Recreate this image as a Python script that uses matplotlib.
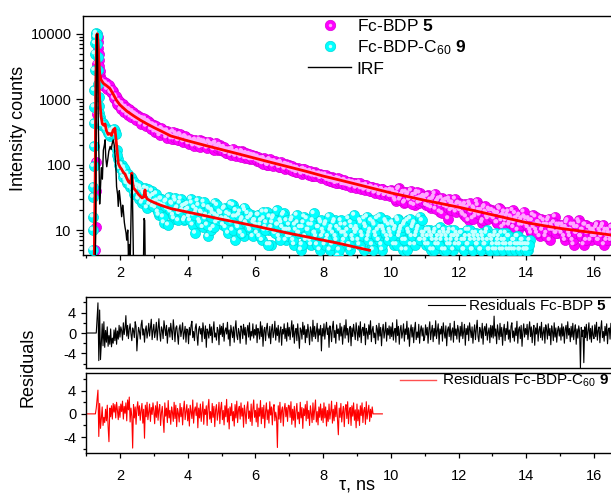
import numpy as np
import matplotlib
matplotlib.use("Agg")
import matplotlib.pyplot as plt
from matplotlib.lines import Line2D
from matplotlib.legend_handler import HandlerTuple
from matplotlib.transforms import ScaledTranslation
from matplotlib.ticker import FixedLocator, NullFormatter, LogLocator, MultipleLocator

plt.rcParams['font.family'] = ['Liberation Sans', 'DejaVu Sans']
plt.rcParams['mathtext.fontset'] = 'custom'
plt.rcParams['mathtext.rm'] = 'Liberation Sans'
plt.rcParams['mathtext.it'] = 'Liberation Sans:italic'
plt.rcParams['mathtext.bf'] = 'Liberation Sans:bold'

# ---------------- data ----------------
DT = 0.05  # channel spacing (ns) of each decay list

# Fc-BDP 5 : rising edge / peak (explicit channels)
t5_early = [1.27, 1.28, 1.29, 1.30, 1.31, 1.32, 1.325, 1.33, 1.34, 1.35, 1.36, 1.37, 1.38,
            1.39, 1.40, 1.41, 1.42, 1.43, 1.44, 1.45, 1.46, 1.47, 1.48]
y5_early = [5, 11, 40, 110, 600, 3500, 8000, 10000, 9000, 7500, 6000, 5000, 4000,
            3200, 2700, 2300, 2100, 2000, 1950, 1900, 1850, 1820, 1800]
T5_START = 1.50      # channels 1.50, 1.55, ...
y5 = [1900, 1620, 1750, 1480, 1560, 1250, 1320, 1010, 1060, 830,
      900, 740, 790, 640, 720, 610, 680, 560, 510, 600, 570, 470, 530, 450, 480, 500, 400, 455, 420, 350,
      400, 330, 360, 340, 300, 350, 310, 290, 330, 280, 305, 270, 250, 300, 265, 240, 280, 255, 230, 265,
      250, 215, 240, 205, 230, 220, 195, 240, 210, 190, 225, 200, 185, 215, 205, 175, 210, 190, 170, 200,
      185, 160, 175, 150, 165, 170, 145, 160, 140, 155, 150, 135, 160, 140, 125, 145, 135, 120, 140, 130,
      135, 115, 125, 120, 105, 125, 112, 100, 118, 108, 112, 98, 108, 103, 92, 110, 97, 90, 102, 93,
      98, 84, 90, 86, 78, 88, 80, 75, 85, 77, 82, 72, 78, 74, 68, 76, 70, 66, 73, 67,
      70, 62, 66, 60, 57, 64, 55, 60, 58, 53, 60, 55, 50, 57, 52, 48, 55, 50, 53, 47,
      52, 46, 49, 44, 48, 42, 46, 44, 40, 45, 42, 38, 43, 40, 37, 42, 39, 35, 40, 36,
      41, 33, 37, 28, 36, 44, 31, 35, 26, 38, 33, 29, 40, 31, 24, 35, 30, 37, 27, 32,
      31, 24, 34, 27, 22, 30, 36, 25, 28, 19, 31, 26, 23, 29, 15, 27, 24, 21, 30, 22,
      26, 20, 23, 17, 25, 21, 14, 24, 19, 22, 16, 27, 20, 18, 13, 22, 19, 16, 21, 17,
      20, 15, 18, 13, 22, 16, 11, 19, 14, 17, 12, 16, 20, 13, 15, 10, 17, 14, 12, 16,
      15, 11, 14, 9, 17, 12, 10, 13, 8, 15, 11, 12, 9, 14, 7, 12, 10, 16, 9, 11,
      12, 9, 11, 7, 13, 10, 8, 12, 6, 11, 9, 14, 8, 10, 6, 12, 9, 11, 7, 10,
      10, 8, 12, 7, 9, 11, 6, 10, 8, 9, 7, 11, 8, 10, 9]
T5B_START = 1.525    # interleaved channels 1.525, 1.575, ...
y5b = [1580, 1800, 1430, 1650, 1290, 1400, 1050, 1130, 860, 940,
       700, 860, 650, 760, 580, 700, 540, 650, 600, 480, 560, 530, 420, 510, 470, 390, 460, 440, 350, 410,
       320, 390, 310, 280, 360, 300, 330, 260, 310, 290, 250, 320, 260, 280, 235, 290, 250, 225, 270, 240,
       210, 250, 225, 195, 240, 205, 220, 185, 230, 200, 210, 180, 225, 190, 200, 170, 215, 180, 195, 165,
       165, 185, 150, 170, 160, 140, 175, 150, 135, 160, 145, 130, 155, 140, 150, 125, 145, 130, 120, 138,
       120, 132, 110, 124, 104, 118, 114, 98, 120, 104, 96, 112, 100, 106, 92, 104, 96, 86, 100, 90,
       86, 95, 80, 90, 76, 84, 82, 72, 86, 74, 78, 70, 80, 68, 75, 66, 72, 69, 62, 70,
       64, 70, 58, 65, 56, 62, 58, 52, 62, 54, 57, 50, 58, 49, 54, 51, 46, 53, 48, 44,
       48, 53, 43, 47, 41, 49, 44, 39, 46, 41, 37, 44, 40, 35, 42, 38, 34, 40, 36, 33,
       34, 40, 30, 36, 42, 29, 34, 38, 27, 33, 36, 30, 25, 34, 29, 38, 26, 31, 28, 33,
       28, 33, 23, 29, 26, 32, 21, 27, 30, 24, 18, 28, 25, 22, 30, 20, 26, 23, 19, 25,
       21, 25, 18, 23, 16, 22, 26, 19, 15, 21, 18, 24, 17, 20, 14, 23, 18, 15, 20, 16,
       16, 19, 13, 18, 21, 14, 17, 12, 16, 19, 13, 15, 11, 18, 14, 16, 12, 15, 19, 13,
       12, 15, 10, 14, 11, 16, 9, 13, 12, 10, 14, 8, 12, 15, 10, 11, 13, 9, 12, 10,
       10, 12, 8, 11, 14, 9, 10, 7, 12, 9, 11, 13, 8, 10, 12, 7, 9, 11, 10, 8,
       9, 11, 7, 10, 8, 12, 9, 7, 10, 8, 11, 9, 7, 10]

# Fc-BDP-C60 9 : rising edge / peak
t9_early = [1.19, 1.20, 1.205, 1.21, 1.215, 1.22, 1.225, 1.23, 1.235, 1.24, 1.25, 1.26, 1.27,
            1.28, 1.29, 1.30, 1.31, 1.32, 1.33, 1.34, 1.35, 1.36, 1.37, 1.38, 1.39, 1.40,
            1.41, 1.42, 1.43, 1.44, 1.45, 1.46, 1.47, 1.48]
y9_early = [5, 10, 16, 32, 46, 95, 190, 430, 770, 1380, 2800, 5000, 7200,
            9000, 10000, 10300, 10000, 9200, 7000, 4500, 2800, 1700, 1100, 800, 620, 540,
            480, 450, 430, 410, 420, 400, 430, 410]
T9_START = 1.50
y9 = [430, 380, 360, 310, 270, 330, 310, 330, 170, 120,
      88, 100, 64, 82, 52, 66, 45, 60, 36, 50, 42, 30, 46, 26, 38, 44, 22, 34, 28, 40,
      34, 22, 28, 17, 30, 24, 13, 27, 21, 32, 19, 25, 15, 28, 22, 18, 30, 20, 14, 24,
      25, 16, 30, 12, 22, 18, 28, 14, 19, 11, 23, 17, 8, 21, 10, 18, 26, 13, 16, 19,
      18, 12, 22, 15, 9, 17, 13, 24, 7, 16, 11, 19, 14, 8, 20, 12, 15, 10, 17, 13,
      14, 9, 17, 12, 7, 15, 11, 19, 10, 6, 13, 16, 9, 12, 8, 14, 11, 18, 7, 10,
      12, 8, 15, 6, 10, 13, 9, 5, 11, 16, 7, 10, 12, 6, 14, 9, 8, 11, 5, 13,
      10, 6, 13, 8, 5, 11, 9, 14, 7, 4, 10, 12, 6, 9, 8, 15, 5, 11, 7, 10,
      11, 7, 14, 9, 5, 12, 16, 8, 10, 6, 13, 9, 15, 7, 11, 5, 10, 14, 8, 12,
      9, 13, 6, 11, 15, 8, 10, 5, 12, 7, 14, 9, 6, 11, 13, 8, 10, 16, 7, 9,
      9, 6, 8, 10, 5, 7, 9, 6, 8, 11, 7, 5, 9, 8, 6, 10, 7, 5, 8, 9,
      8, 6, 9, 5, 7, 10, 6, 8, 5, 9, 7, 6, 8, 5, 9, 7, 6, 10, 5, 8,
      7, 5, 9, 6, 8, 5, 7, 6, 9, 5, 8, 6, 5, 7, 6, 8, 5, 6, 7, 5,
      6, 5, 7]
T9B_START = 1.525
y9b = [410, 350, 340, 290, 300, 300, 350, 290, 140, 100,
       92, 75, 90, 58, 72, 50, 64, 42, 54, 38, 48, 33, 42, 28, 36, 30, 42, 25, 32, 23,
       27, 36, 19, 25, 30, 16, 23, 28, 12, 20, 26, 17, 31, 21, 14, 26, 19, 23, 15, 20,
       21, 14, 26, 17, 9, 20, 24, 13, 18, 27, 15, 12, 22, 16, 20, 11, 17, 24, 14, 18,
       15, 21, 11, 18, 14, 25, 10, 16, 20, 12, 17, 9, 15, 22, 13, 18, 11, 16, 8, 14,
       12, 17, 8, 14, 19, 10, 13, 6, 16, 11, 15, 9, 20, 12, 7, 13, 17, 10, 14, 8,
       10, 14, 7, 12, 17, 9, 11, 6, 13, 8, 15, 10, 7, 12, 18, 9, 6, 11, 14, 8,
       9, 12, 7, 16, 10, 6, 13, 8, 11, 5, 14, 9, 7, 12, 10, 6, 13, 8, 17, 9,
       10, 6, 13, 8, 15, 11, 7, 9, 14, 5, 12, 8, 10, 16, 6, 11, 9, 13, 7, 10,
       8, 12, 10, 6, 14, 9, 11, 7, 13, 5, 10, 15, 8, 12, 6, 9, 11, 7, 14, 8,
       7, 10, 6, 9, 8, 5, 10, 7, 6, 9, 8, 10, 5, 7, 9, 6, 8, 10, 6, 7,
       6, 9, 7, 5, 8, 6, 10, 7, 5, 8, 9, 6, 7, 5, 8, 6, 9, 7, 5, 8,
       6, 8, 5, 7, 6, 9, 5, 7, 6, 8, 5, 6, 7, 5, 8, 6, 5, 7, 6, 5,
       5, 6]

# IRF
t_irf = [1.22, 1.26, 1.28, 1.29, 1.30, 1.31, 1.32, 1.33, 1.34, 1.35, 1.36, 1.38, 1.40, 1.42,
         1.45, 1.48, 1.51, 1.54, 1.56, 1.58, 1.61, 1.64, 1.67, 1.71, 1.74, 1.77, 1.80, 1.83,
         1.85, 1.88, 1.90, 1.93, 1.95, 1.98, 2.00, 2.03, 2.05, 2.08, 2.10, 2.13, 2.15, 2.18,
         2.20, 2.23, 2.25, 2.28, 2.30, 2.33, 2.35, 2.37, 2.40, 2.45, 2.50, 2.55, 2.60, 2.65,
         2.69, 2.71, 2.73, 2.75, 2.80]
y_irf = [1, 2, 8, 100, 2000, 8000, 10000, 9000, 4000, 1200, 450, 120, 25, 40,
         90, 60, 167, 200, 240, 130, 93, 120, 160, 190, 170, 210, 240, 200,
         150, 90, 46, 35, 23, 40, 32, 22, 16, 24, 20, 13, 11, 9,
         7, 10, 4, 6, 3, 20, 70, 30, 3, 1, 2, 1, 3, 1,
         2, 15, 14, 2, 1]

# fits
t_fit5 = [1.24, 1.27, 1.29, 1.31, 1.33, 1.35, 1.37, 1.40, 1.44, 1.48, 1.51, 1.6, 1.7, 1.8, 1.9,
          2.0, 2.2, 2.4, 2.6, 2.8, 3.0, 3.25, 3.5, 4.0, 4.5, 5.0, 5.5, 6.0, 6.5, 7.0, 7.5,
          8.0, 8.5, 9.0, 9.5, 10.0, 10.5, 11.0, 11.5, 12.0, 12.5, 13.0, 13.5, 14.0, 14.5,
          15.0, 15.5, 16.0, 16.5, 16.7]
y_fit5 = [2, 30, 800, 9000, 10000, 8000, 4500, 2500, 2000, 1850, 1750, 1620, 1470, 1200, 960,
          820, 660, 560, 480, 420, 370, 320, 275, 232, 198, 170, 146, 125, 107, 92, 79,
          67, 58, 50, 43, 37, 32.5, 28.5, 25.3, 22.4, 19.6, 17.1, 14.9, 13.0, 11.7,
          10.6, 9.8, 9.1, 8.4, 8.1]
t_fit9 = [1.20, 1.23, 1.26, 1.29, 1.31, 1.33, 1.35, 1.37, 1.40, 1.44, 1.48, 1.52, 1.56, 1.60,
          1.65, 1.70, 1.75, 1.80, 1.85, 1.90, 1.95, 2.00, 2.05, 2.10, 2.15, 2.20, 2.25, 2.30,
          2.33, 2.35, 2.37, 2.40, 2.45, 2.50, 2.55, 2.60, 2.65, 2.70, 2.72, 2.74, 2.76, 2.80,
          2.90, 3.0, 3.2, 3.5, 4.0, 4.5, 5.0, 5.5, 6.0, 6.5, 7.0, 7.5, 8.0, 8.5, 9.0, 9.37]
y_fit9 = [1, 1.5, 20, 2000, 9500, 10000, 6000, 2500, 1000, 550, 420, 400, 420, 330,
          290, 300, 280, 340, 360, 200, 105, 92, 85, 76, 72, 62, 55, 52,
          60, 74, 55, 44, 41, 38, 35, 33, 31, 32, 36, 41, 33, 30,
          28, 26.5, 24, 21.3, 18.8, 16.6, 14.6, 13.0, 11.5, 10.1, 8.9, 7.9, 7.0, 6.2, 5.4, 4.9]

# weighted residuals, in tenths, on a 0.025 ns grid starting at 1.000 ns
DTR = 0.025
TR_START = 1.000
res5_tenths = [0, 0, 0, 0, 0, 0, 0, 0, 0, 0, 0, 0, 0,
    30, 59, -54, 45, -52, -20, 18, -25, 22, -28, 5, -18, 12, -26, -5, -22, 8, -27, -10, -20, 6, -15, 10, -22, 4, -12, 15,
    -8, 12, 5, -14, 20, -3, 9, 34, -6, 15, -11, 7, 18, -2, -15, 10, 4, -9, 22, 13, -35, -7, 11, 3, -12, 16, 25, -4, 8, -18, 6, 14, -10, 2, 19, -6, 11, 27, -13, 5,
    17, -9, 3, 21, -14, 8, 28, 0, -16, 12, 6, -11, 24, 9, -5, 15, -20, 4, 11, -8, 19, 2, -13, 26, 7, -17, 10, 14, -3, -22, 9, 16, -7, 5, 20, -12, 1, 13, -18, 8,
    6, -21, 11, -4, 15, 23, -9, 3, -15, 10, 18, -6, -24, 7, 13, -2, 9, -17, 20, 4, -11, 14, -28, 8, 2, -10, 17, -5, 12, -19, 6, 22, -8, 0, -14, 11, 5, -23, 16, -3,
    13, -7, 19, -16, 4, 10, -2, 21, -12, 6, -25, 15, 3, -9, 12, -18, 8, 24, -5, -13, 9, 1, -20, 14, 7, -11, 17, -4, 11, -22, 5, 15, -8, 20, -14, 3, -6, 18, -10, 7,
    -4, 16, -19, 9, 2, -12, 22, -7, 14, -26, 5, 11, -15, 8, 19, -3, -10, 13, -21, 6, 17, -9, 1, 23, -14, 10, -5, 15, -18, 4, 12, -24, 7, -2, 18, -11, 9, -16, 20, -6,
    11, -13, 5, 24, -8, 16, -20, 3, 9, -15, 18, -5, -30, 10, 6, -12, 21, -3, 14, -19, 7, -9, 17, 1, -23, 12, 4, -16, 25, -7, 13, -11, 2, 19, -17, 8, -4, 15, -35, 9,
    -6, 18, -12, 7, 21, -3, 10, -28, 14, 4, -17, 11, 23, -9, 5, -20, 16, -1, 8, -14, 19, -6, 12, -22, 3, 15, -10, 26, -4, 9, -18, 6, 13, -25, 10, -7, 17, 1, -13, 20,
    4, -15, 14, -8, 22, -19, 7, 11, -5, 18, -23, 9, 2, -12, 16, -3, 24, -17, 6, 13, -9, 0, -21, 15, 8, -14, 19, -6, 11, -25, 5, 17, -10, 3, 21, -16, 9, -4, 14, -11,
    12, -7, 20, -14, 3, 9, -18, 26, -5, 13, -22, 6, 15, -10, 1, 18, -16, 8, -3, 23, -12, 10, -26, 4, 16, -8, 11, -19, 7, 21, -13, 2, -9, 17, -20, 5, 14, -6, 10, -15,
    -9, 16, -4, 11, -20, 7, 22, -13, 3, 15, -17, 9, -6, 24, -11, 5, 18, -22, 8, -2, 13, -16, 20, 1, -10, 14, -25, 6, 12, -7, 19, -14, 4, 10, -18, 23, -5, 8, -12, 15,
    5, -18, 13, -6, 21, -11, 2, 17, -24, 9, -3, 14, -15, 20, 6, -9, 12, -20, 3, 16, -13, 8, 25, -7, -17, 11, 4, -10, 19, -22, 7, 13, -5, 18, -14, 1, 10, -19, 15, -8,
    14, -10, 33, -6, 8, -21, 16, 2, -13, 19, -7, 11, -24, 5, 17, -15, 9, -3, 22, -12, 6, -18, 13, 20, -9, 4, -16, 10, -5, 23, -20, 7, 12, -11, 15, -26, 3, 18, -8, 9,
    -3, 17, -13, 8, 22, -7, 12, -19, 4, 15, -24, 10, -2, 19, -16, 6, 13, -9, 21, -14, 1, 11, -20, 16, 7, -12, 18, -5, 9, -23, 14, 3, -15, 20, -8, 10, -18, 5, 13, -6,
    10, -14, 18, -6, 12, -20, 7, 15, -11, 22, -4, 9, -17, 13, -8, 19, -13, 5, 16, -22, 8, -10, 14, 3, -69, 11, -7, 6, -58, 12, -9, 17, -15, 4, 20, -12, 9, -18, 14, -5,
    -11, 16, -7, 21, -14, 5, 12, -19, 8, 24, -9, 3, -16, 13, -5, 18, -21, 7, 10, -12, 19, -4, 11, -17, 6, 15, -10, 2, 14]
res9_tenths = [0, 0, 0, 0, 0, 0, 0, 0, 0, 0, 0, 0,
    10, 25, 41, -39, 18, -25, -8, 12, -20, -6, -15, 8, -12, 15, -22, -48, 10, -5, 14, -9, 18, 3, 16, -7, 20, 6, -10, 13,
    -6, 17, 4, 22, -9, 13, 1, 19, -12, 24, 7, 29, -14, 10, -4, -59, 16, -7, 12, -18, 9, 21, -3, 14, -11, 6, 18, -16, 8, -42, 15, -5, 20, -10, 3, 17, -13, 11, -1, 19,
    5, -17, 14, -6, 21, -11, 8, 16, -20, 2, 13, -9, -32, 19, -4, 10, -15, 23, -7, 6, -18, 12, 3, -13, 20, -8, 15, -22, 9, 1, -14, 18, -5, 11, -19, 7, 22, -10, 4, 16,
    -12, 9, -21, 15, 3, -8, 24, -16, 6, 12, -3, 19, -24, 10, -7, 17, -13, 5, 21, -18, 8, -1, 14, -20, 11, 25, -9, 4, -15, 18, -6, 13, -22, 7, 16, -11, 2, 20, -17, 9,
    20, -10, 6, -19, 14, -5, 25, -14, 9, -26, 12, -3, 18, -12, 4, -21, 16, -7, 22, -15, 7, 13, -9, 19, -4, 10, -23, 15, 2, -17, 11, 21, -8, 5, -13, 17, -20, 8, 24, -6,
    6, -14, 17, -22, 10, -4, 23, -17, 11, -8, 15, -24, 4, 19, -10, 7, -16, 21, -2, 12, -19, 9, 16, -12, 3, -7, -58, 14, -9, 20, -15, 6, 12, -21, 8, 18, -5, 11, -13, 15,
    14, -6, 21, -18, 8, -11, 13, -23, 5, 18, -9, 3, -17, 20, -7, 11, -25, 9, -3, 16, -12, 22, -8, 6, -20, 14, 1, -15, 19, -10, 7, 24, -14, 4, -19, 12, -6, 17, -11, 9,
    -15, 19, -7, 12, -21, 6, -13, 17, -9, 4, 22, -16, 8, -12, 15, -5, 20, -10, -36, 10, -6, 18, -14, 3, 13, -22, 9, 16, -8, 21, -17, 5, 11, -20, 14, -4, 19, -11, 7, -24,
    17, -12, 7, -20, 14, -3, 19, -15, 6, 11, -18, 21, -9, 4, 15, -13, 8, -6, 12,
    0, 0, 0, 0, 0, 0, 0, 0, 0, 0, 0, 0]

xticks = [2, 4, 6, 8, 10, 12, 14, 16]
yticks_top = [10, 100, 1000, 10000]
yticks_res = [-4, 0, 4]

# ---------------- figure ----------------
MAG = '#FF00FF'
CYN = '#00FFFF'
W, H = 611, 495
fig = plt.figure(figsize=(W / 100, H / 100), dpi=100)

def frac(l, t, r, b):
    return [l / W, 1 - b / H, (r - l) / W, (b - t) / H]

ax = fig.add_axes(frac(83.3, 16, 617, 255))
ar1 = fig.add_axes(frac(86.1, 296.7, 617, 368.3))
ar2 = fig.add_axes(frac(86.1, 373.3, 617, 453.3))

t5 = np.concatenate([t5_early, T5_START + DT * np.arange(len(y5)),
                     T5B_START + DT * np.arange(len(y5b))])
v5 = np.concatenate([y5_early, y5, y5b])
t9 = np.concatenate([t9_early, T9_START + DT * np.arange(len(y9)),
                     T9B_START + DT * np.arange(len(y9b))])
v9 = np.concatenate([y9_early, y9, y9b])

hl_off = ScaledTranslation(-1.3 / 100, 1.3 / 100, fig.dpi_scale_trans)
S = 52
ax.scatter(t5, v5, s=S, c=MAG, edgecolors='#D800D8', linewidths=0.5, zorder=2)
ax.scatter(t5, v5, s=9, c='#FFA8FF', edgecolors='none', zorder=2.1,
           transform=ax.transData + hl_off)
ax.scatter(t9, v9, s=S, c=CYN, edgecolors='#00D8D8', linewidths=0.5, zorder=3)
ax.scatter(t9, v9, s=9, c='#C8FFFF', edgecolors='none', zorder=3.1,
           transform=ax.transData + hl_off)
ax.plot(t_fit5, y_fit5, color='#FF0000', lw=2.0, zorder=5)
ax.plot(t_fit9, y_fit9, color='#FF0000', lw=2.0, zorder=5)
ax.plot(t_irf, y_irf, color='black', lw=1.0, zorder=6)

ax.set_yscale('log')
ax.set_xlim(0.917, 16.68)
ax.set_ylim(4.15, 18800)
ax.yaxis.set_major_locator(FixedLocator(yticks_top))
ax.set_yticklabels([str(v) for v in yticks_top])
ax.yaxis.set_minor_locator(LogLocator(base=10, subs=np.arange(2, 10)))
ax.yaxis.set_minor_formatter(NullFormatter())
ax.set_xticks(xticks)
ax.xaxis.set_minor_locator(MultipleLocator(1))
ax.tick_params(axis='both', which='both', direction='out', top=False, right=False,
               labelsize=10.5, width=0.9)
ax.tick_params(axis='y', which='major', length=4.8, pad=3.6)
ax.tick_params(axis='y', which='minor', length=2.9)
ax.tick_params(axis='x', which='major', length=3.6, pad=4.5)
ax.tick_params(axis='x', which='minor', length=2.5)

h5 = (Line2D([], [], ls='none', marker='o', ms=7.5, mfc=MAG, mec='#D800D8', mew=0.5),
      Line2D([], [], ls='none', marker='o', ms=2.5, mfc='#FFA8FF', mec='none'))
h9 = (Line2D([], [], ls='none', marker='o', ms=7.5, mfc=CYN, mec='#00D8D8', mew=0.5),
      Line2D([], [], ls='none', marker='o', ms=2.5, mfc='#C8FFFF', mec='none'))
hi = Line2D([], [], color='black', lw=1.0)
ax.legend([h5, h9, hi],
          [r'Fc-BDP $\mathbf{5}$', r'Fc-BDP-C$_{60}$ $\mathbf{9}$', 'IRF'],
          handler_map={tuple: HandlerTuple(ndivide=1, pad=0)},
          loc='upper left', bbox_to_anchor=(308 / W, 1 - 18 / H),
          bbox_transform=fig.transFigure, frameon=False, fontsize=12.5,
          borderpad=0, borderaxespad=0, handlelength=2.5, handletextpad=0.3,
          labelspacing=0.25)

# residual panels
tr5 = TR_START + DTR * np.arange(len(res5_tenths))
tr9 = TR_START + DTR * np.arange(len(res9_tenths))
l5, = ar1.plot(tr5, np.array(res5_tenths) / 10, color='black', lw=0.8)
l9, = ar2.plot(tr9, np.array(res9_tenths) / 10, color='#FF0000', lw=0.8)

for a, ylo, yhi in ((ar1, -6.9, 7.1), (ar2, -6.8, 7.0)):
    a.set_xlim(1.0, 16.68)
    a.set_ylim(ylo, yhi)
    a.set_yticks(yticks_res)
    a.set_yticklabels([str(v) for v in yticks_res])
    a.yaxis.set_minor_locator(FixedLocator([-6, -2, 2, 6]))
    a.tick_params(axis='y', which='major', direction='out', length=3.5, pad=3.6,
                  labelsize=10.5, width=0.9, right=False)
    a.tick_params(axis='y', which='minor', direction='out', length=2.2, width=0.9, right=False)

ar1.tick_params(axis='x', which='both', bottom=False, top=False, labelbottom=False)
ar2.set_xticks(xticks)
ar2.xaxis.set_minor_locator(MultipleLocator(1))
ar2.tick_params(axis='x', which='major', direction='out', length=3.6, pad=7.5,
                labelsize=10.5, width=0.9, top=False)
ar2.tick_params(axis='x', which='minor', direction='out', length=2.5, width=0.9, top=False)

for a in (ax, ar1, ar2):
    for s in a.spines.values():
        s.set_linewidth(1.0)

ar1.legend([l5], [r'Residuals Fc-BDP $\mathbf{5}$'], loc='upper right',
           bbox_to_anchor=(607 / W, 1 - 298 / H), bbox_transform=fig.transFigure,
           frameon=False, fontsize=11, borderpad=0, borderaxespad=0,
           handlelength=2.4, handletextpad=0.2)
ar2.legend([Line2D([], [], color='#FF5050', lw=1.0)],
           [r'Residuals Fc-BDP-C$_{60}$ $\mathbf{9}$'], loc='upper right',
           bbox_to_anchor=(609 / W, 1 - 372 / H), bbox_transform=fig.transFigure,
           frameon=False, fontsize=11, borderpad=0, borderaxespad=0,
           handlelength=2.4, handletextpad=0.35)

fig.text(27 / W, 1 - 128 / H, 'Intensity counts', rotation=90, ha='right', va='center',
         fontsize=13)
fig.text(37 / W, 1 - 367 / H, 'Residuals', rotation=90, ha='right', va='center',
         fontsize=13)
fig.text(357 / W, 1 - 490 / H, 'τ, ns', ha='center', va='baseline', fontsize=13)

fig.savefig('out.png', dpi=100)
